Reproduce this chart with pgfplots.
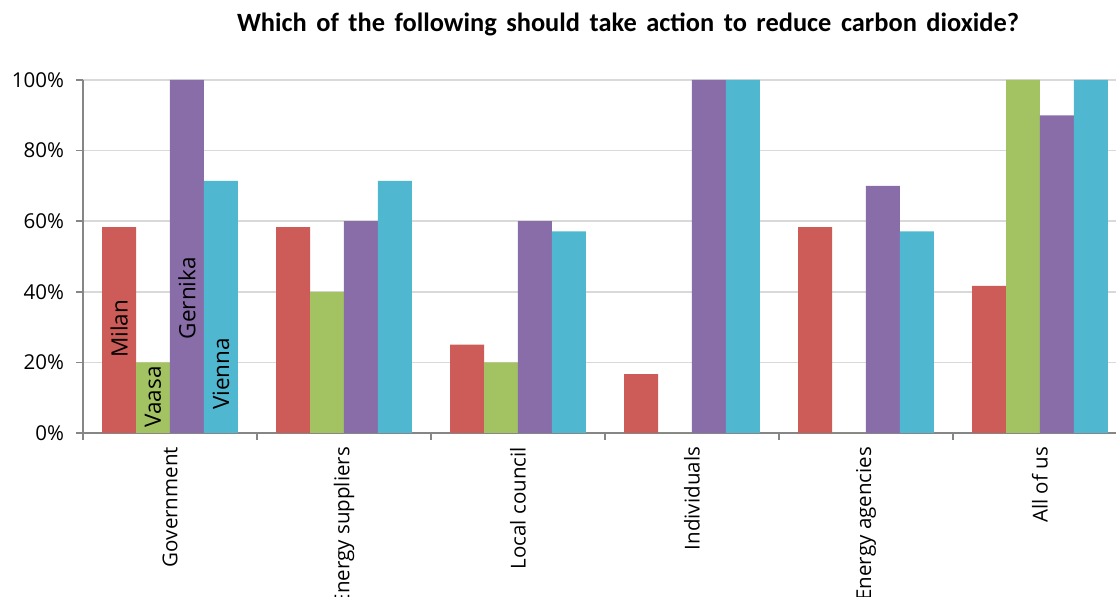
\documentclass[border=0pt]{standalone}
\usepackage{fontspec}
\setmainfont{Open Sans}
\newfontfamily\titlefont[WordSpace=1.6]{Carlito}
\usepackage{pgfplots}
\usepackage{pgfplotstable}
\pgfplotsset{compat=1.18}

\definecolor{milan}{RGB}{205,91,87}
\definecolor{vaasa}{RGB}{163,194,98}
\definecolor{gernika}{RGB}{136,109,168}
\definecolor{vienna}{RGB}{80,183,208}
\definecolor{gridgray}{RGB}{217,217,217}
\definecolor{axisgray}{RGB}{134,134,134}

% share of respondents (%) per city and actor
\pgfplotstableread{
x milan vaasa gernika vienna
0 58.3  20   100     71.4
1 58.3  40   60      71.4
2 25    20   60      57.1
3 16.7  0    100     100
4 58.3  0    70      57.1
5 41.7  100  90      100
}\datatable

\begin{document}
\begin{tikzpicture}
\path[use as bounding box] (0,0) rectangle (558pt,298.5pt);
\begin{axis}[
  at={(41.5pt,82pt)}, anchor=south west,
  scale only axis, width=522pt, height=176.5pt,
  ybar=0pt, bar width=0.195,
  xmin=-0.5, xmax=5.5, ymin=0, ymax=100,
  axis lines=left, axis line style={-, draw=axisgray, line width=0.8pt},
  xtick={0,...,5},
  xticklabels={Government,Energy suppliers,Local council,Individuals,Energy agencies,All of us},
  major x tick style={draw=none},
  minor xtick={-0.5,0.5,...,4.5},
  minor x tick style={draw=axisgray, line width=0.8pt},
  minor tick length=3.5pt,
  xtick pos=bottom, tick align=outside,
  xticklabel style={rotate=90, anchor=east, font=\fontsize{10.25}{12}\selectfont},
  ytick={0,20,...,100},
  ytick pos=left,
  y tick style={draw=axisgray, line width=0.8pt},
  major tick length=3.5pt,
  yticklabel={\pgfmathprintnumber{\tick}\%},
  yticklabel style={font=\fontsize{10.25}{12}\selectfont, xshift=-2.5pt},
  /pgf/number format/assume math mode=true,
  ymajorgrids, grid style={gridgray, line width=0.8pt},
  clip=false,
]
\addplot[fill=milan, draw=none] table[x=x, y=milan] {\datatable};
\addplot[fill=vaasa, draw=none] table[x=x, y=vaasa] {\datatable};
\addplot[fill=gernika, draw=none] table[x=x, y=gernika] {\datatable};
\addplot[fill=vienna, draw=none] table[x=x, y=vienna] {\datatable};
% city names written inside the Government bars
\begin{scope}[every node/.style={rotate=90, font=\fontsize{11.25}{13}\selectfont}]
\node at (axis cs:-0.2925,29.5) {Milan};
\node at (axis cs:-0.0975,10.2) {Vaasa};
\node at (axis cs:0.0975,38.2) {Gernika};
\node at (axis cs:0.2925,16.7) {Vienna};
\end{scope}
\end{axis}
\node[font=\titlefont\bfseries\fontsize{13.2}{15}\selectfont] at (314pt,286.5pt)
  {Which of the following should take action to reduce carbon dioxide?};
\end{tikzpicture}
\end{document}
